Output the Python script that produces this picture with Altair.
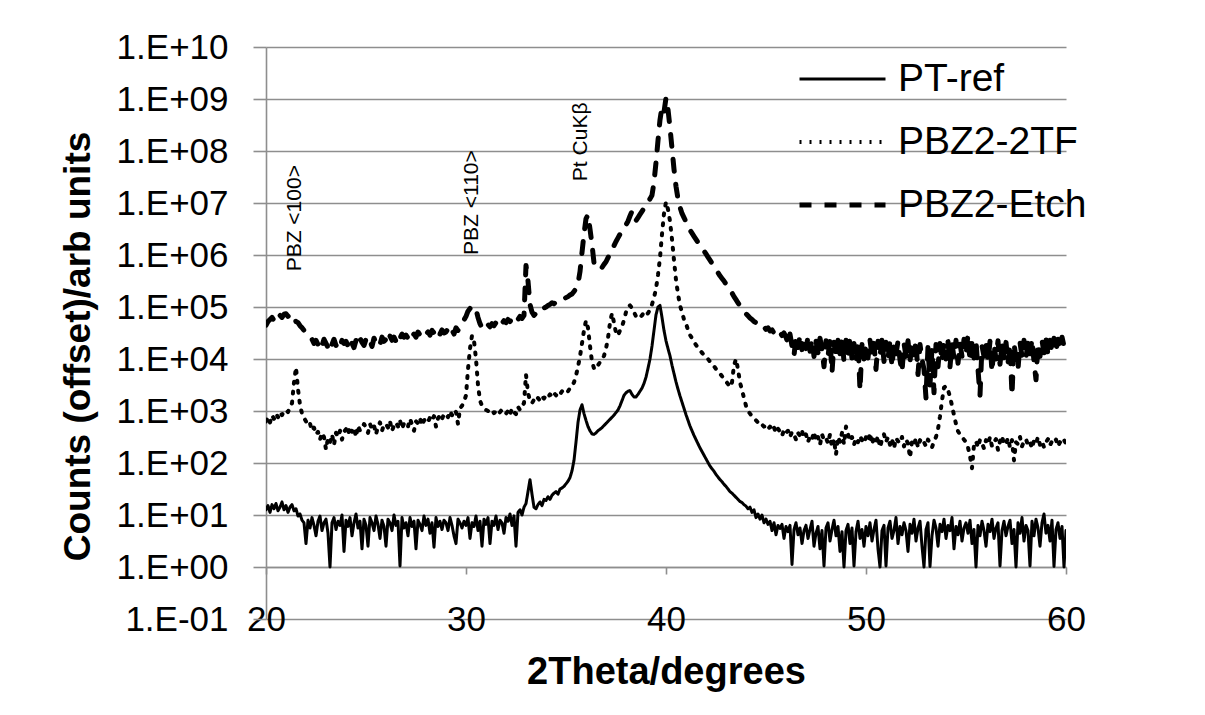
import altair as alt
import pandas as pd

# ---------------- data ----------------
series_names = ["PT-ref", "PBZ2-2TF", "PBZ2-Etch"]

# 2theta scan grid: 20.0 .. 60.0 degrees, 0.1 degree steps
two_theta_start = 20.0
two_theta_step = 0.1

# log10(counts), one row per degree (x.0 .. x.9)
pt_ref_log10 = [
    1.10, 1.18, 1.05, 1.20, 1.12, 1.22, 1.08, 1.15, 1.25, 1.10,
    1.18, 1.05, 1.15, 1.20, 1.08, 1.12, 0.98, 1.02, 0.90, 0.85,
    0.45, 0.90, 0.75, 0.95, 0.80, 0.60, 0.88, 0.98, 0.70, 0.85,
    0.92, 0.65, 0.00, 0.85, 0.95, 0.72, 0.88, 0.80, 1.00, 0.30,
    0.90, 0.78, 0.95, 0.60, 0.85, 1.02, 0.75, 0.88, 0.35, 0.92,
    0.80, 0.40, 0.95, 0.85, 0.70, 0.98, 0.82, 0.55, 0.90, 0.78,
    0.40, 0.92, 0.85, 0.70, 1.00, 0.80, 0.88, 0.02, 0.95, 0.75,
    0.85, 0.60, 0.95, 0.78, 0.88, 0.35, 0.90, 0.82, 0.70, 0.98,
    0.80, 0.92, 0.65, 0.85, 0.38, 0.95, 0.78, 0.88, 0.72, 0.90,
    0.85, 0.70, 0.95, 0.80, 0.60, 0.45, 0.92, 0.85, 0.75, 0.88,
    0.80, 0.95, 0.55, 0.85, 0.78, 0.98, 0.70, 0.88, 0.40, 0.92,
    0.82, 0.95, 0.45, 0.88, 0.80, 0.98, 0.72, 0.90, 0.85, 0.65,
    0.95, 0.88, 1.02, 0.80, 0.98, 0.40, 1.05, 1.10, 1.00, 1.15,
    1.22, 1.45, 1.68, 1.40, 1.15, 1.12, 1.20, 1.25, 1.18, 1.30,
    1.28, 1.35, 1.30, 1.38, 1.42, 1.45, 1.40, 1.50, 1.52, 1.55,
    1.60, 1.65, 1.72, 1.85, 2.05, 2.40, 2.78, 3.02, 3.12, 2.95,
    2.82, 2.70, 2.62, 2.56, 2.55, 2.58, 2.62, 2.65, 2.68, 2.72,
    2.76, 2.80, 2.84, 2.88, 2.92, 2.97, 3.02, 3.10, 3.20, 3.30,
    3.35, 3.38, 3.39, 3.32, 3.27, 3.27, 3.32, 3.38, 3.44, 3.53,
    3.65, 3.82, 4.00, 4.25, 4.55, 4.85, 5.00, 5.03, 4.80, 4.55,
    4.35, 4.20, 4.06, 3.88, 3.72, 3.56, 3.42, 3.29, 3.17, 3.05,
    2.93, 2.82, 2.71, 2.62, 2.53, 2.45, 2.37, 2.29, 2.22, 2.15,
    2.08, 2.01, 1.94, 1.89, 1.84, 1.78, 1.73, 1.68, 1.64, 1.59,
    1.55, 1.50, 1.45, 1.42, 1.38, 1.34, 1.30, 1.26, 1.24, 1.20,
    1.17, 1.12, 1.15, 1.05, 1.10, 0.95, 1.02, 0.92, 1.00, 0.85,
    0.92, 0.82, 0.88, 0.70, 0.85, 0.62, 0.80, 0.74, 0.82, 0.55,
    0.78, 0.68, 0.80, 0.05, 0.72, 0.85, 0.62, 0.75, 0.45, 0.70,
    0.80, 0.55, 0.72, 0.88, 0.40, 0.65, 0.78, 0.35, 0.70, 0.02,
    0.75, 0.85, 0.50, 0.72, 0.90, 0.60, 0.78, 0.30, 0.68, 0.00,
    0.70, 0.82, 0.45, 0.75, 0.02, 0.68, 0.88, 0.55, 0.72, 0.40,
    0.78, 0.60, 0.85, 0.50, 0.72, 0.90, 0.35, 0.00, 0.70, 0.80,
    0.02, 0.75, 0.88, 0.55, 0.70, 0.95, 0.45, 0.78, 0.62, 0.85,
    0.70, 0.30, 0.82, 0.65, 0.92, 0.50, 0.75, 0.88, 0.40, 0.00,
    0.72, 0.85, 0.01, 0.60, 0.90, 0.75, 0.40, 0.82, 0.68, 0.92,
    0.55, 0.80, 0.70, 0.95, 0.35, 0.78, 0.62, 0.88, 0.50, 0.75,
    0.85, 0.65, 0.90, 0.45, 0.72, 0.00, 0.80, 0.60, 0.88, 0.70,
    0.40, 0.82, 0.68, 0.92, 0.55, 0.75, 0.85, 0.02, 0.70, 0.88,
    0.60, 0.78, 0.90, 0.45, 0.72, 0.00, 0.85, 0.65, 0.95, 0.50,
    0.80, 0.70, 0.02, 0.88, 0.60, 0.92, 0.75, 0.40, 0.85, 1.02,
    0.65, 0.80, 0.50, 0.90, 0.01, 0.72, 0.85, 0.55, 0.78, 0.00,
    0.70,
]

pbz2_2tf_log10 = [
    2.80, 2.88, 2.78, 2.92, 2.85, 2.95, 2.88, 2.98, 2.92, 3.00,
    3.02, 2.98, 3.08, 3.15, 3.55, 3.84, 3.42, 3.12, 2.95, 2.87,
    2.80, 2.72, 2.76, 2.62, 2.68, 2.55, 2.60, 2.45, 2.58, 2.50,
    2.26, 2.48, 2.40, 2.55, 2.35, 2.58, 2.50, 2.62, 2.45, 2.60,
    2.65, 2.55, 2.70, 2.60, 2.68, 2.50, 2.72, 2.62, 2.66, 2.75,
    2.68, 2.58, 2.75, 2.65, 2.72, 2.55, 2.70, 2.78, 2.62, 2.74,
    2.75, 2.68, 2.80, 2.62, 2.72, 2.78, 2.70, 2.82, 2.66, 2.76,
    2.78, 2.70, 2.85, 2.74, 2.62, 2.80, 2.76, 2.86, 2.72, 2.82,
    2.84, 2.78, 2.88, 2.82, 2.90, 2.70, 2.86, 2.92, 2.84, 2.95,
    2.94, 2.88, 3.00, 2.92, 3.02, 2.98, 2.75, 3.05, 3.10, 3.18,
    3.30, 3.80, 4.20, 4.45, 4.35, 4.00, 3.50, 3.20, 3.10, 3.05,
    3.02, 3.00, 2.98, 3.02, 2.96, 3.00, 2.94, 2.98, 3.03, 2.97,
    2.95, 3.00, 2.92, 3.05, 2.98, 2.94, 3.08, 3.02, 3.10, 3.15,
    3.70, 3.35, 3.20, 3.15, 3.22, 3.18, 3.25, 3.20, 3.28, 3.24,
    3.30, 3.26, 3.32, 3.28, 3.35, 3.30, 3.36, 3.32, 3.38, 3.35,
    3.40, 3.38, 3.44, 3.48, 3.55, 3.68, 3.85, 4.05, 4.30, 4.55,
    4.74, 4.60, 4.25, 3.95, 3.82, 3.80, 3.88, 3.94, 4.00, 4.06,
    4.20, 4.40, 4.70, 4.88, 4.70, 4.50, 4.45, 4.55, 4.62, 4.75,
    4.90, 5.00, 5.03, 4.98, 4.90, 4.82, 4.78, 4.80, 4.84, 4.90,
    4.85, 4.88, 4.95, 5.05, 5.18, 5.35, 5.62, 5.95, 6.40, 6.80,
    7.02, 6.88, 6.65, 6.30, 5.90, 5.52, 5.25, 5.03, 4.90, 4.76,
    4.68, 4.56, 4.46, 4.40, 4.33, 4.27, 4.22, 4.17, 4.12, 4.08,
    4.04, 4.00, 3.95, 3.91, 3.86, 3.81, 3.77, 3.72, 3.67, 3.62,
    3.57, 3.52, 3.46, 3.55, 3.88, 4.00, 3.80, 3.55, 3.40, 3.25,
    3.10, 3.00, 2.95, 2.90, 2.86, 2.82, 2.78, 2.80, 2.74, 2.70,
    2.72, 2.65, 2.70, 2.62, 2.68, 2.58, 2.66, 2.60, 2.52, 2.64,
    2.58, 2.62, 2.50, 2.60, 2.55, 2.45, 2.58, 2.52, 2.62, 2.48,
    2.55, 2.40, 2.52, 2.46, 2.60, 2.42, 2.50, 2.35, 2.55, 2.44,
    2.48, 2.38, 2.55, 2.30, 2.45, 2.16, 2.50, 2.40, 2.58, 2.36,
    2.70, 2.55, 2.42, 2.50, 2.35, 2.48, 2.40, 2.52, 2.44, 2.38,
    2.50, 2.42, 2.58, 2.36, 2.48, 2.40, 2.52, 2.30, 2.45, 2.55,
    2.40, 2.50, 2.35, 2.46, 2.28, 2.48, 2.42, 2.38, 2.50, 2.32,
    2.45, 2.38, 2.10, 2.42, 2.35, 2.48, 2.30, 2.44, 2.36, 2.40,
    2.32, 2.45, 2.38, 2.30, 2.42, 2.50, 2.65, 2.90, 3.20, 3.45,
    3.48, 3.40, 3.28, 3.10, 2.92, 2.75, 2.61, 2.55, 2.50, 2.45,
    2.40, 2.30, 2.13, 1.90, 2.35, 2.42, 2.30, 2.45, 2.38, 2.28,
    2.44, 2.36, 2.50, 2.32, 2.40, 2.46, 2.25, 2.42, 2.52, 2.35,
    2.38, 2.48, 2.30, 2.44, 2.05, 2.40, 2.36, 2.50, 2.32, 2.42,
    2.46, 2.34, 2.40, 2.28, 2.44, 2.38, 2.50, 2.35, 2.42, 2.30,
    2.40, 2.46, 2.34, 2.42, 2.38, 2.45, 2.32, 2.40, 2.36, 2.44,
    2.38,
]

pbz2_etch_log10 = [
    4.65, 4.72, 4.76, 4.80, 4.74, 4.82, 4.78, 4.84, 4.80, 4.86,
    4.87, 4.82, 4.85, 4.78, 4.80, 4.72, 4.70, 4.64, 4.60, 4.55,
    4.50, 4.45, 4.40, 4.38, 4.30, 4.36, 4.28, 4.35, 4.25, 4.38,
    4.30, 4.22, 4.35, 4.28, 4.38, 4.26, 4.32, 4.24, 4.36, 4.30,
    4.34, 4.25, 4.38, 4.30, 4.22, 4.36, 4.28, 4.40, 4.32, 4.26,
    4.38, 4.30, 4.35, 4.24, 4.40, 4.32, 4.36, 4.28, 4.42, 4.34,
    4.38, 4.30, 4.44, 4.36, 4.42, 4.34, 4.46, 4.40, 4.48, 4.42,
    4.46, 4.40, 4.50, 4.44, 4.48, 4.42, 4.52, 4.46, 4.50, 4.44,
    4.48, 4.52, 4.46, 4.55, 4.50, 4.45, 4.54, 4.48, 4.56, 4.50,
    4.52, 4.58, 4.50, 4.56, 4.48, 4.60, 4.55, 4.62, 4.68, 4.75,
    4.82, 4.92, 4.97, 5.02, 5.00, 4.95, 4.80, 4.68, 4.60, 4.64,
    4.60, 4.66, 4.62, 4.68, 4.64, 4.70, 4.65, 4.72, 4.68, 4.74,
    4.70, 4.76, 4.72, 4.78, 4.74, 4.80, 4.76, 4.82, 4.78, 4.84,
    5.80, 5.50, 5.05, 4.90, 4.84, 4.88, 4.92, 4.90, 4.95, 4.98,
    5.00, 5.03, 5.05, 5.08, 5.06, 5.10, 5.12, 5.14, 5.13, 5.16,
    5.18, 5.20, 5.23, 5.25, 5.30, 5.35, 5.45, 5.68, 6.05, 6.40,
    6.70, 6.77, 6.50, 6.20, 5.85, 5.78, 5.74, 5.72, 5.76, 5.82,
    5.87, 5.95, 6.02, 6.10, 6.18, 6.26, 6.33, 6.40, 6.47, 6.53,
    6.58, 6.65, 6.75, 6.84, 6.68, 6.66, 6.72, 6.78, 6.84, 6.90,
    6.96, 7.02, 7.08, 7.15, 7.40, 7.78, 8.20, 8.60, 8.85, 8.75,
    9.02, 8.80, 8.45, 8.05, 7.65, 7.32, 7.08, 6.92, 6.80, 6.72,
    6.64, 6.56, 6.48, 6.42, 6.36, 6.30, 6.24, 6.18, 6.13, 6.08,
    6.02, 5.96, 5.90, 5.84, 5.78, 5.72, 5.66, 5.60, 5.55, 5.50,
    5.44, 5.38, 5.33, 5.27, 5.20, 5.14, 5.08, 5.02, 4.97, 4.92,
    4.87, 4.83, 4.79, 4.76, 4.72, 4.70, 4.66, 4.64, 4.60, 4.62,
    4.57, 4.60, 4.54, 4.56, 4.50, 4.53, 4.48, 4.52, 4.45, 4.50,
    4.42, 4.30, 4.48, 4.25, 4.06, 4.44, 4.22, 4.46, 4.18, 4.40,
    4.20, 4.42, 4.15, 4.38, 4.05, 4.35, 4.12, 4.40, 4.18, 3.85,
    4.35, 4.05, 4.38, 3.74, 4.32, 4.02, 4.36, 4.10, 4.40, 3.95,
    4.36, 4.10, 4.42, 4.00, 4.30, 3.95, 4.34, 3.40, 4.28, 4.00,
    4.30, 4.02, 4.36, 4.08, 4.30, 3.80, 4.34, 4.05, 4.38, 3.95,
    4.32, 4.00, 4.36, 3.85, 4.30, 4.10, 4.34, 3.98, 3.75, 4.30,
    4.05, 4.35, 3.95, 4.30, 4.08, 4.36, 3.70, 4.28, 4.00, 3.80,
    3.25, 4.25, 3.50, 4.20, 3.35, 4.28, 3.85, 4.30, 3.95, 4.32,
    4.00, 4.34, 3.85, 4.30, 4.02, 4.36, 3.92, 4.30, 4.05, 4.38,
    4.08, 4.48, 3.95, 4.32, 4.02, 4.34, 3.80, 3.30, 4.25, 4.05,
    4.30, 3.95, 4.34, 3.75, 4.28, 4.00, 4.35, 3.90, 4.30, 4.02,
    4.32, 3.92, 4.28, 3.30, 4.30, 4.00, 3.80, 4.32, 4.05, 4.36,
    4.02, 4.34, 4.10, 4.38, 3.95, 3.60, 4.30, 4.05, 4.36, 4.12,
    4.38, 4.08, 4.36, 4.12, 4.40, 4.15, 4.38, 4.18, 4.42, 4.25,
    4.40,
]

x_tick_values = [20, 30, 40, 50, 60]
y_tick_values = [1e-1, 1e0, 1e1, 1e2, 1e3, 1e4, 1e5, 1e6, 1e7, 1e8, 1e9, 1e10]

annotation_labels = ["PBZ <100>", "PBZ <110>", "Pt CuKβ"]
annotation_two_theta = [21.45, 30.3, 35.75]
annotation_counts = [5.1e6, 1.02e7, 1.5e8]

# ---------------- build tables ----------------
rows = []
for name, logs in zip(series_names, [pt_ref_log10, pbz2_2tf_log10, pbz2_etch_log10]):
    for i, lv in enumerate(logs):
        rows.append({
            "two_theta": round(two_theta_start + two_theta_step * i, 1),
            "counts": 10 ** lv,
            "series": name,
        })
df = pd.DataFrame(rows)

ann_df = pd.DataFrame({
    "two_theta": annotation_two_theta,
    "counts": annotation_counts,
    "label": annotation_labels,
})

GRID = "#8e8e8e"
FONT = "Liberation Sans"

x_scale = alt.Scale(domain=[20, 60], nice=False, zero=False)
y_scale = alt.Scale(type="log", domain=[0.1, 1e10], nice=False)

y_label_expr = (
    "'1.E' + (datum.value < 1 ? '-' : '+') + "
    "(abs(round(log(datum.value) / LN10)) < 10 ? '0' : '') + "
    "abs(round(log(datum.value) / LN10))"
)

legend_spec = alt.Legend(
    orient="none", legendX=531, legendY=12, direction="vertical",
    title=None, symbolType="stroke", symbolSize=7396, symbolStrokeColor="black",
    clipHeight=40, rowPadding=23, labelFontSize=39, labelFont=FONT,
    labelColor="black", labelOffset=10, labelLimit=400, padding=0,
)

lines = alt.Chart(df).mark_line(
    color="black", strokeCap="round", strokeJoin="round", clip=True
).encode(
    x=alt.X(
        "two_theta:Q", scale=x_scale,
        axis=alt.Axis(
            values=x_tick_values, grid=False, domain=False, ticks=False,
            labelFlush=False, labelBaseline="middle", labelPadding=0,
            labelFontSize=35, labelFont=FONT, labelColor="black",
            title="2Theta/degrees", titleFontSize=38, titleFont=FONT,
            titleFontWeight="bold", titleColor="black", titleX=400, titleY=53,
            titleAlign="center", titleBaseline="middle",
        ),
    ),
    y=alt.Y(
        "counts:Q", scale=y_scale,
        axis=alt.Axis(
            values=y_tick_values, labelExpr=y_label_expr,
            grid=True, gridColor=GRID, gridWidth=1.6,
            domain=True, domainColor=GRID, domainWidth=1.6,
            ticks=True, tickSize=13, tickColor=GRID, tickWidth=1.6,
            labelPadding=25, labelFontSize=35, labelFont=FONT, labelColor="black",
            title="Counts (offset)/arb units", titleFontSize=37, titleFont=FONT,
            titleFontWeight="bold", titleColor="black", titleX=-188, titleY=299,
            titleAngle=270, titleAlign="center", titleBaseline="middle",
        ),
    ),
    strokeDash=alt.StrokeDash(
        "series:N",
        scale=alt.Scale(domain=series_names, range=[[1, 0], [2, 8], [12, 13]]),
        legend=legend_spec,
    ),
    strokeWidth=alt.StrokeWidth(
        "series:N",
        scale=alt.Scale(domain=series_names, range=[3, 5, 5]),
        legend=legend_spec,
    ),
)

annotations = alt.Chart(ann_df).mark_text(
    angle=270, fontSize=21, font=FONT, color="black", align="center", baseline="middle"
).encode(
    x=alt.X(
        "two_theta:Q", scale=x_scale, title=None,
        axis=alt.Axis(
            orient="bottom", offset=-52, values=x_tick_values, labels=False,
            grid=False, domain=True, domainColor=GRID, domainWidth=1.6,
            ticks=True, tickSize=7, tickColor=GRID, tickWidth=1.6,
        ),
    ),
    y=alt.Y("counts:Q", scale=y_scale),
    text="label:N",
)

chart = alt.layer(lines, annotations).resolve_axis(x="independent").properties(
    width=800,
    height=572,
    autosize=alt.AutoSizeParams(type="none"),
    padding={"left": 258, "top": 39, "right": 131, "bottom": 88},
    background="white",
).configure_view(stroke=None)

chart.save("out.html", embed_options={"renderer": "svg", "actions": False})
